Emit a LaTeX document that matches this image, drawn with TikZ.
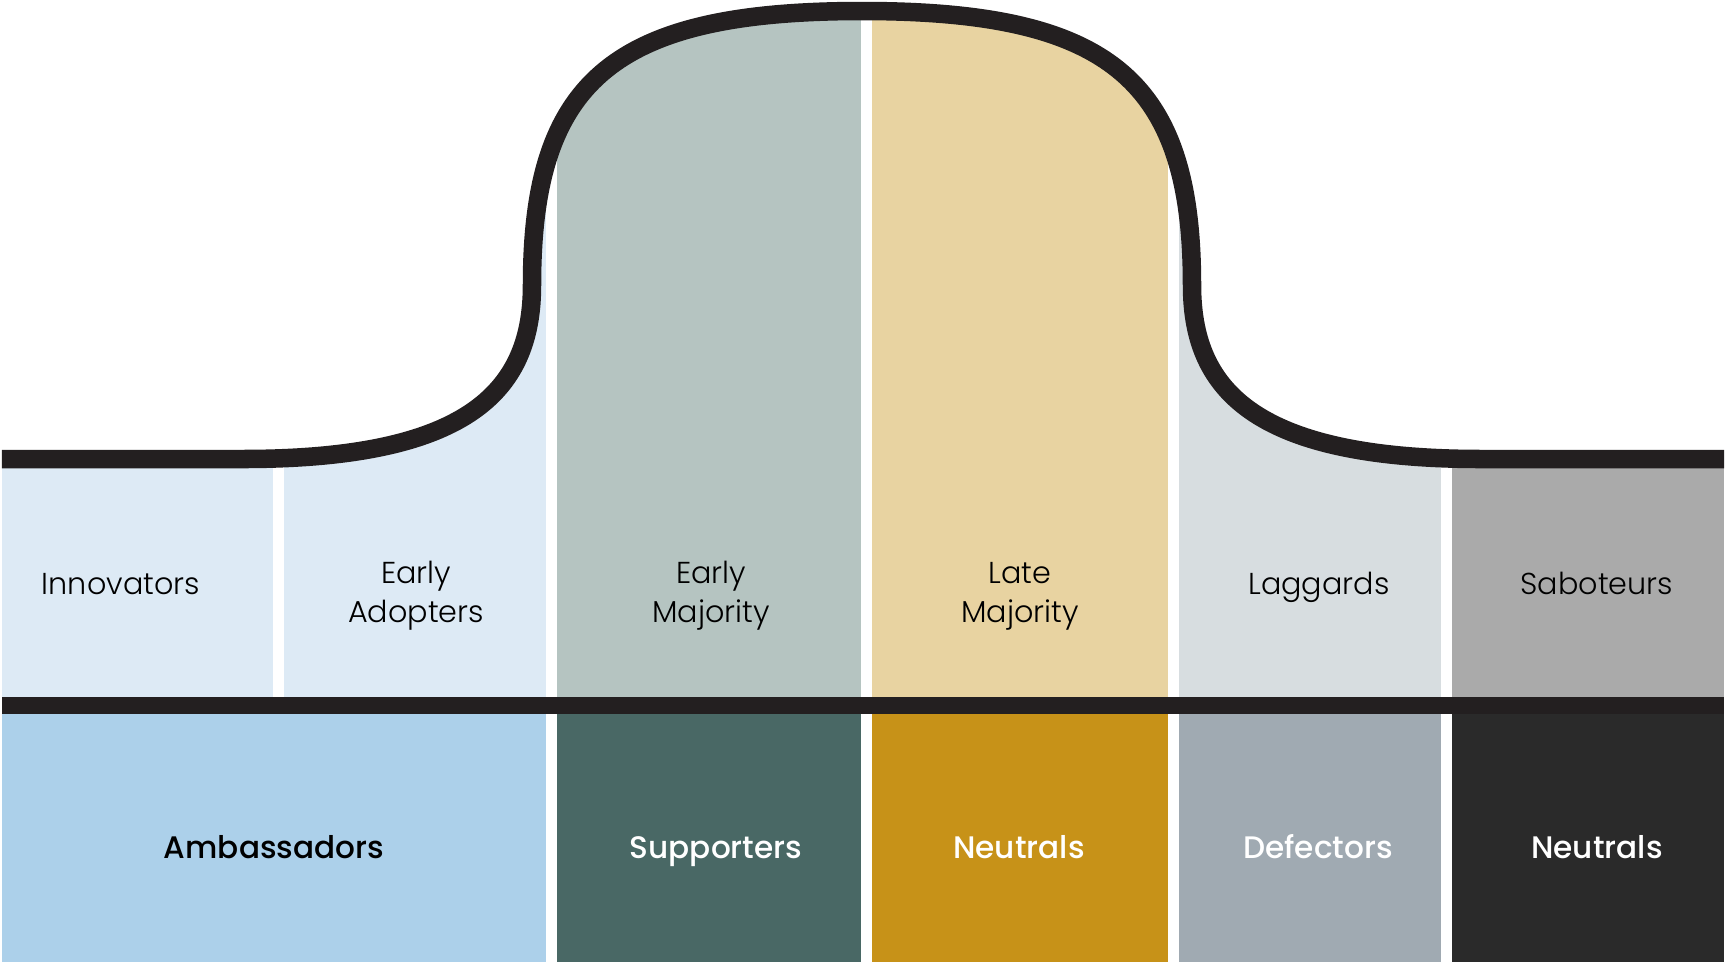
\documentclass[tikz,border=0pt]{standalone}
\usepackage{fontspec}
\setmainfont{Poppins}
\newfontfamily\toplabel{Poppins Light}
\newfontfamily\botlabel{Poppins Medium}

\definecolor{curveblack}{HTML}{231F20}
\definecolor{innoblue}{HTML}{DDEAF5}
\definecolor{earlygrey}{HTML}{B5C4C1}
\definecolor{latesand}{HTML}{E8D3A1}
\definecolor{lagggrey}{HTML}{D7DDE0}
\definecolor{sabogrey}{HTML}{AAAAAA}
\definecolor{ambblue}{HTML}{ACD0EA}
\definecolor{suppgreen}{HTML}{496865}
\definecolor{neutgold}{HTML}{C79218}
\definecolor{defgrey}{HTML}{A0AAB2}
\definecolor{neutdark}{HTML}{2A2A2A}

\begin{document}
\begin{tikzpicture}[x=0.01cm,y=-0.01cm,
  toptext/.style={font=\toplabel\fontsize{8.6}{11}\selectfont,align=center,text=black},
  bottext/.style={font=\botlabel\fontsize{8.85}{11}\selectfont,text=white,anchor=base}]

\useasboundingbox (0,0) rectangle (1726,963);

% Top row, cut by the curve
\begin{scope}
\clip (2,459) -- (243,459) .. controls (474,459) and (532,387) .. (532,285)
  .. controls (532,80) and (614,11) .. (862,11)
  .. controls (1110,11) and (1192,80) .. (1192,285)
  .. controls (1192,387) and (1250,459) .. (1481,459)
  -- (1724,459) -- (1724,697) -- (2,697) -- cycle;
\fill[innoblue] (2,0) rectangle (273,697);
\fill[innoblue] (284,0) rectangle (546,697);
\fill[earlygrey] (557,0) rectangle (861,697);
\fill[latesand] (872,0) rectangle (1168,697);
\fill[lagggrey] (1179,0) rectangle (1441,697);
\fill[sabogrey] (1452,0) rectangle (1724,697);
\end{scope}

% Curve
\draw[curveblack,line width=1.85mm]
  (2,459) -- (243,459) .. controls (474,459) and (532,387) .. (532,285)
  .. controls (532,80) and (614,11) .. (862,11)
  .. controls (1110,11) and (1192,80) .. (1192,285)
  .. controls (1192,387) and (1250,459) .. (1481,459) -- (1724,459);

\node[toptext,anchor=base] (inno) at (121,594) {Innovators};
\node[toptext] (earlyad) at (416,596) {Early\\Adopters};
\node[toptext] (earlymaj) at (711,596) {Early\\Majority};
\node[toptext] (latemaj) at (1020,596) {Late\\Majority};
\node[toptext,anchor=base] (lagg) at (1319,594) {Laggards};
\node[toptext,anchor=base] (sabo) at (1597,594) {Saboteurs};

% Bar
\fill[curveblack] (2,697) rectangle (1724,714);

% Bottom row
\fill[ambblue] (2,714) rectangle (546,962);
\fill[suppgreen] (557,714) rectangle (861,962);
\fill[neutgold] (872,714) rectangle (1168,962);
\fill[defgrey] (1179,714) rectangle (1441,962);
\fill[neutdark] (1452,714) rectangle (1724,962);

\node[bottext,text=black] (amb) at (274,858) {Ambassadors};
\node[bottext] (supp) at (716,858) {Supporters};
\node[bottext] (neut) at (1019,858) {Neutrals};
\node[bottext] (def) at (1318,858) {Defectors};
\node[bottext] (neutb) at (1597,858) {Neutrals};

\end{tikzpicture}
\end{document}
